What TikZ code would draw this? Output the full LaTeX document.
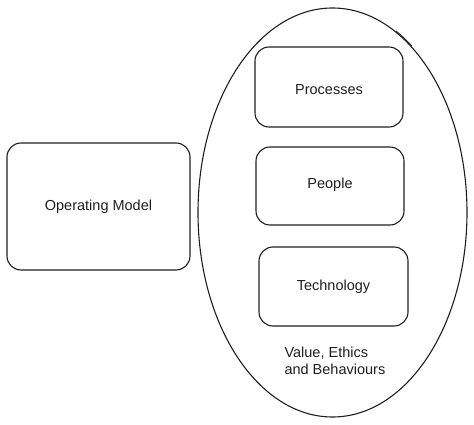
\documentclass[tikz,border=0pt]{standalone}
\usepackage{fontspec}
\setmainfont{Liberation Sans}
\usetikzlibrary{shapes.geometric}
\definecolor{ink}{HTML}{1E1E1E}
\tikzset{
  box/.style={draw=ink, line width=1.1pt, rounded corners=14pt, minimum width=#1, inner sep=0pt},
  box/.default=148pt,
  lbl/.style={font=\fontsize{14.5}{17}\selectfont, text=ink},
}
\begin{document}
\begin{tikzpicture}[x=1pt,y=-1pt]
\useasboundingbox (0,0) rectangle (474,425);
% outer ellipse
\node[ellipse, draw=ink, line width=1.1pt, minimum width=269pt, minimum height=409pt, inner sep=0pt] (env) at (332.5,212.5) {};
\draw[ink, line width=0.8pt] (env.center) ++(-62:135.5 and 205.5) arc[start angle=-62, end angle=-54, x radius=135.5, y radius=205.5];
% left box
\node[box=183pt, minimum height=127pt] (om) at (98.5,206.5) {};
\node[lbl] (omt) at (om.center) {Operating Model};
% inner boxes
\node[box=148pt, minimum height=80pt] (proc) at (329,87) {};
\node[lbl] (proct) at (329,90) {Processes};
\node[box=148pt, minimum height=78pt] (ppl) at (330,186) {};
\node[lbl] (pplt) at (330,185) {People};
\node[box=149pt, minimum height=79pt] (tech) at (333.5,286.5) {};
\node[lbl] (techt) at (333.5,287) {Technology};
% caption
\node[lbl, align=left, anchor=west] (val) at (281,361) {Value, Ethics\\and Behaviours};
\end{tikzpicture}
\end{document}
